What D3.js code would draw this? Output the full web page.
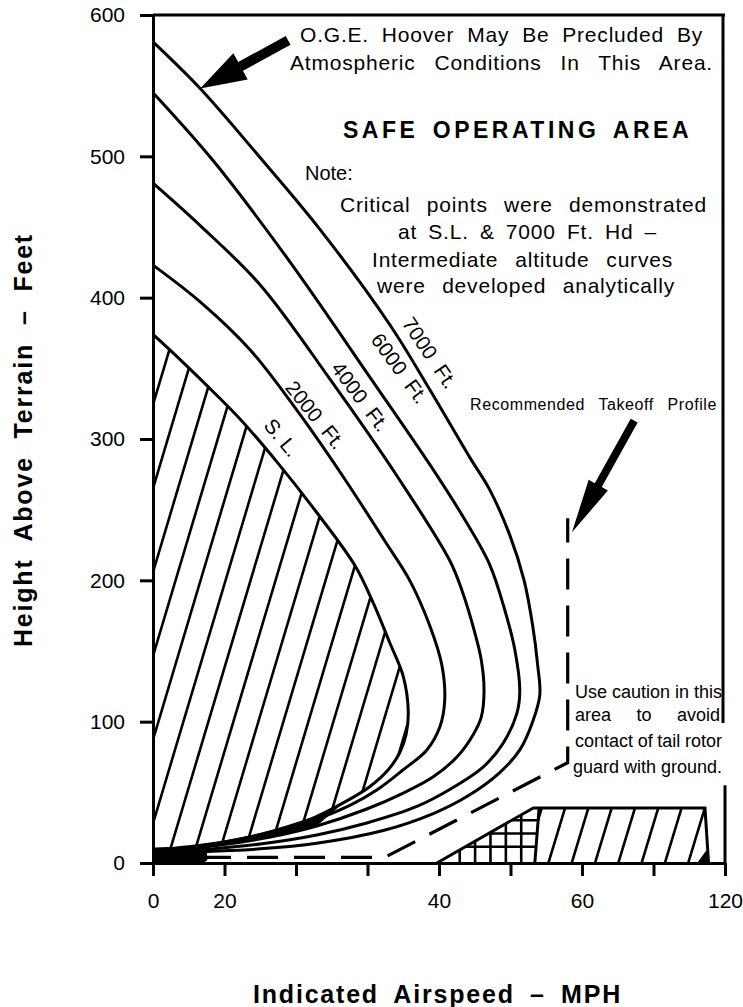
<!DOCTYPE html>
<html>
<head>
<meta charset="utf-8">
<script src="https://cdn.jsdelivr.net/npm/d3@7"></script>
<style>
  body { margin: 0; background: #fff; }
  svg { display: block; }
  text { font-family: "Liberation Sans", Arial, Helvetica, sans-serif; fill: #000; }
</style>
</head>
<body>
<svg id="chart"></svg>
<script>
// Height-velocity diagram
var xTicks = [0, 10, 20, 30, 40, 50, 60, 70, 80];
var xTickLabels = ["0", "20", "", "", "40", "", "60", "", "120"];
var yTicks = [0, 100, 200, 300, 400, 500, 600];

var curveNames = ["S. L.", "2000  Ft.", "4000  Ft.", "6000  Ft.", "7000  Ft."];

// [airspeed, height ft] along each envelope: top branch, nose, lower branch
var seaLevel = [[0,374],[3.1,359.5],[7.3,339],[12.2,314],[17.3,284],[22.9,248],[28.3,210],[30.8,184],[33.1,156],[35,132],[35.7,107],[35.4,91],[34.5,78],[32.9,66],[30.3,54],[26.6,42.5],[22.7,32.5],[18.7,25.5],[14.7,19.8],[10.8,15.6],[6.9,12.7],[3.4,10.6],[0,9.2]];
var ft2000 = [[0,423],[6.6,397],[13.6,363],[20.6,317],[26.9,271],[32.4,228],[35.9,200],[38.7,168],[40.4,140],[40.8,115],[40.1,96],[38.3,80],[35,66],[31.3,51.7],[27.6,41],[22.9,31.1],[17.8,23.3],[12.2,17],[6.6,12],[0,8.5]];
var ft4000 = [[0,481],[6.6,451],[15,409],[24.8,342],[34.5,271],[41.5,214],[43.2,193],[44.9,165],[45.9,144],[46.3,122],[45.9,103],[44.8,91],[42.5,75],[39.2,61],[35,49.5],[29.9,38.2],[22.9,26.2],[16.4,18.4],[9.4,12.7],[0,7.8]];
var ft6000 = [[0,545],[8.4,497],[19.2,425],[30.3,344],[38.7,282],[43.6,243],[47.1,211],[49.2,179],[50.6,151],[51.3,122],[50.9,106],[49,85],[46.2,68],[41.5,52],[36.9,40],[29.9,28.3],[22.9,19.8],[15,13.4],[6.6,9.2],[0,7]];
var ft7000 = [[0,581],[6.6,548],[15,499],[23.4,448],[33.1,381],[38.7,335],[44.3,287],[47.1,264],[49.9,232],[51.9,200],[53.1,168],[53.8,140],[54.1,119],[53.1,100],[51.3,80],[48.5,64],[43.9,47],[39.2,35],[32.2,23],[22.9,14],[15,10],[6.6,8],[0,6.5]];

var takeoffProfile = [[0,4],[32.4,4],[58,71],[58,244]];
var groundWedge = [[0,0],[0,11],[7.5,12],[7.6,2],[7,0]];
var avoidGrid = [[39.7,0],[53.2,39],[54,39],[53.4,0]];
var avoidSlash = [[53.4,0],[54,39],[77.2,39],[77.7,0]];
var slashCorner = [[76.1,0],[77.4,9],[77.7,0]];

var width = 743, height = 1007;
var svg = d3.select("#chart").attr("width", width).attr("height", height);

var x = d3.scaleLinear().domain([0, 80]).range([153, 725]);
var y = d3.scaleLinear().domain([0, 600]).range([863, 15]);

var smooth = d3.line().x(d => x(d[0])).y(d => y(d[1])).curve(d3.curveCatmullRom.alpha(0.5));
var straight = d3.line().x(d => x(d[0])).y(d => y(d[1]));

var defs = svg.append("defs");
defs.append("clipPath").attr("id", "clip-sl").append("path").attr("d", smooth(seaLevel) + "Z");
defs.append("clipPath").attr("id", "clip-grid").append("path").attr("d", straight(avoidGrid) + "Z");
defs.append("clipPath").attr("id", "clip-slash").append("path").attr("d", straight(avoidSlash) + "Z");

// slanted hatching: line k passes through (x0 + k*step, yRef)
function hatch(clipId, x0, yRef, step, slope, ks) {
    var top = y(600), bottom = y(0) + 2;
    svg.append("g").attr("clip-path", "url(#" + clipId + ")")
        .selectAll("line").data(ks).enter().append("line")
        .attr("x1", k => x0 + k * step + (yRef - bottom) / slope)
        .attr("y1", bottom)
        .attr("x2", k => x0 + k * step + (yRef - top) / slope)
        .attr("y2", top)
        .attr("stroke", "#000").attr("stroke-width", 2.6);
}
hatch("clip-sl", x(0), y(28), 25, 3.35, d3.range(-14, 14));
hatch("clip-slash", x(55.3), y(0), 23.3, 3.3, d3.range(-1, 9));

// cross-hatching in the small triangle
var grid = svg.append("g").attr("clip-path", "url(#clip-grid)")
    .attr("stroke", "#000").attr("stroke-width", 2.6);
grid.selectAll("line.v").data(d3.range(42.9, 53.5, 2.15)).enter().append("line")
    .attr("class", "v")
    .attr("x1", d => x(d)).attr("x2", d => x(d))
    .attr("y1", y(0)).attr("y2", y(40));
grid.selectAll("line.h").data([11.5, 20.9, 30.3]).enter().append("line")
    .attr("class", "h")
    .attr("x1", x(39)).attr("x2", x(55))
    .attr("y1", d => y(d)).attr("y2", d => y(d));

svg.append("path").attr("d", straight([avoidGrid[0], avoidGrid[1], avoidSlash[2], avoidSlash[3]]))
    .attr("fill", "none").attr("stroke", "#000").attr("stroke-width", 3);
svg.append("path").attr("d", straight([avoidSlash[0], avoidSlash[1]]))
    .attr("fill", "none").attr("stroke", "#000").attr("stroke-width", 3);
svg.append("path").attr("d", straight(slashCorner) + "Z").attr("fill", "#000");

// where the low branches run together they print as one black band
function lowerBranch(pts) {
    var nose = d3.maxIndex(pts, d => d[0]);
    return pts.slice(nose);
}
var bandTop = lowerBranch(seaLevel).filter(d => d[0] <= 26.6);
var bandBottom = lowerBranch(ft4000).filter(d => d[0] <= 22.9).reverse();
svg.append("path").attr("d", smooth(bandTop.concat(bandBottom)) + "Z").attr("fill", "#000");

// altitude envelopes
var curves = [seaLevel, ft2000, ft4000, ft6000, ft7000];
svg.selectAll("path.env").data(curves).enter().append("path")
    .attr("class", "env")
    .attr("d", smooth)
    .attr("fill", "none")
    .attr("stroke", "#000")
    .attr("stroke-width", 3);

svg.append("path").attr("d", straight(groundWedge) + "Z").attr("fill", "#000");

svg.append("path")
    .attr("d", straight(takeoffProfile))
    .attr("fill", "none")
    .attr("stroke", "#000")
    .attr("stroke-width", 3.2)
    .attr("stroke-dasharray", "31,16");

// axes
var yAxis = d3.axisLeft(y).tickValues(yTicks).tickSize(13).tickSizeOuter(0).tickPadding(15);
var gy = svg.append("g").attr("transform", "translate(" + x(0) + ",0)").call(yAxis);
var xAxis = d3.axisBottom(x).tickValues(xTicks)
    .tickFormat((d, i) => xTickLabels[i]).tickSize(13).tickSizeOuter(0).tickPadding(17);
var gx = svg.append("g").attr("transform", "translate(0," + y(0) + ")").call(xAxis);
[gx, gy].forEach(function (g) {
    g.attr("font-size", 21);
    g.selectAll("path, line").attr("stroke", "#000").attr("stroke-width", 3);
    g.selectAll("text").attr("fill", "#000");
});

// frame: top edge and right edge, broken behind the caution note
svg.append("line").attr("x1", x(0)).attr("x2", x(80)).attr("y1", y(600)).attr("y2", y(600))
    .attr("stroke", "#000").attr("stroke-width", 3);
svg.append("line").attr("x1", x(80) - 2).attr("x2", x(80) - 2).attr("y1", y(600)).attr("y2", y(99))
    .attr("stroke", "#000").attr("stroke-width", 3);
svg.append("line").attr("x1", x(80)).attr("x2", x(80)).attr("y1", y(55)).attr("y2", y(0))
    .attr("stroke", "#000").attr("stroke-width", 3);

// arrows
function arrow(t0, t1, shaft, headLen, headHalf) {
    var ax = x(t0[0]), ay = y(t0[1]), bx = x(t1[0]), by = y(t1[1]);
    var L = Math.hypot(bx - ax, by - ay), ux = (bx - ax) / L, uy = (by - ay) / L;
    var nx = -uy, ny = ux, hx = bx - ux * headLen, hy = by - uy * headLen, s = shaft / 2;
    var pts = [[ax + nx * s, ay + ny * s], [hx + nx * s, hy + ny * s], [hx + nx * headHalf, hy + ny * headHalf],
        [bx, by], [hx - nx * headHalf, hy - ny * headHalf], [hx - nx * s, hy - ny * s], [ax - nx * s, ay - ny * s]];
    svg.append("polygon").attr("points", pts.map(p => p.join(",")).join(" ")).attr("fill", "#000");
}
arrow([18.9, 582], [6.6, 548], 10, 46, 15);
arrow([67.3, 313], [58.6, 234], 8, 54, 11);

// curve labels
var labelAt = [[18.0, 301, 50], [22.7, 317, 51], [29.0, 330, 53], [34.5, 350, 54], [38.7, 361, 56]];
svg.selectAll("text.curve").data(curveNames).enter().append("text")
    .attr("class", "curve")
    .attr("transform", (d, i) => "translate(" + x(labelAt[i][0]) + "," + y(labelAt[i][1]) + ") rotate(" + labelAt[i][2] + ")")
    .attr("text-anchor", "middle")
    .attr("dy", "0.35em")
    .attr("font-size", 20.5)
    .style("white-space", "pre")
    .text(d => d);

// text blocks, spread to the widths of the original
function addText(t, px, py, w, size, bold, spacing) {
    var el = svg.append("text").attr("x", px).attr("y", py).attr("font-size", size)
        .attr("font-weight", bold ? "bold" : "normal")
        .style("letter-spacing", (spacing || 0) + "px")
        .text(t);
    var gaps = (t.match(/ /g) || []).length;
    if (w && gaps) {
        var len = el.node().getComputedTextLength();
        el.style("word-spacing", ((w - len) / gaps) + "px");
    }
    return el;
}
addText("O.G.E. Hoover May Be Precluded By", 300, 42, 403, 21, false, 0.8);
addText("Atmospheric Conditions In This Area.", 290, 70, 423, 21, false, 0.8);
addText("SAFE OPERATING AREA", 343, 138, 349, 23, true, 3.5);
addText("Note:", 305, 180, 0, 20);
addText("Critical points were demonstrated", 340, 212, 367, 21, false, 0.8);
addText("at S.L. & 7000 Ft. Hd –", 398, 239, 259, 21, false, 0.8);
addText("Intermediate altitude curves", 372, 267, 301, 21, false, 0.8);
addText("were developed analytically", 377, 293, 298, 21, false, 0.8);
addText("Recommended Takeoff Profile", 470, 410, 247, 16, false, 0.6);
addText("Use caution in this", 575, 698, 147, 18);
addText("area to avoid", 575, 721, 145, 18);
addText("contact of tail rotor", 575, 747, 147, 18);
addText("guard with ground.", 573, 773, 149, 18);

// axis titles
addText("Indicated Airspeed – MPH", 253, 1003, 369, 25, true, 1.8);
var yt = addText("Height Above Terrain – Feet", 0, 0, 414, 25, true, 1.8);
yt.attr("text-anchor", "middle").attr("transform", "translate(32,440) rotate(-90)");
</script>
</body>
</html>
